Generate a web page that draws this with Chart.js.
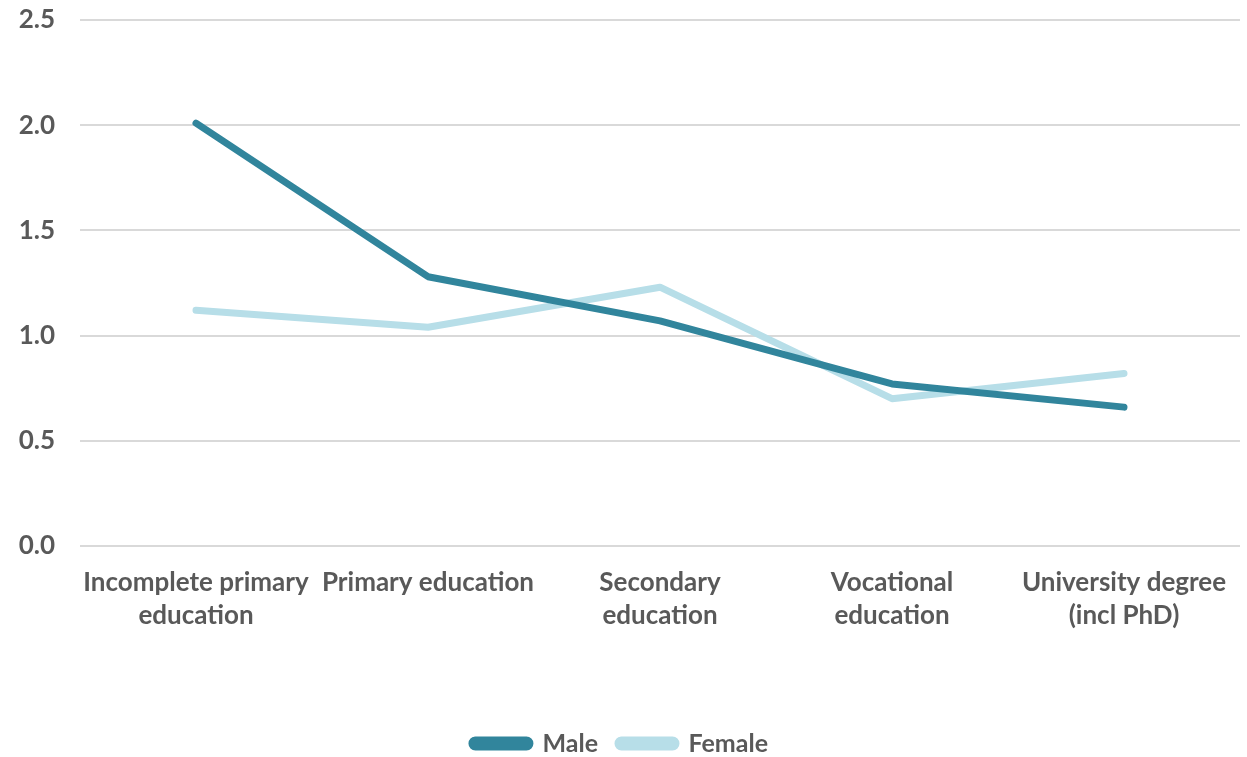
<!DOCTYPE html>
<html>
<head>
<meta charset="utf-8">
<script src="https://cdn.jsdelivr.net/npm/chart.js@4"></script>
<style>
  html, body { margin: 0; padding: 0; background: #fff; }
  #wrap { width: 1247px; height: 757px; }
</style>
</head>
<body>
<div id="wrap"><canvas id="chart" width="1247" height="757"></canvas></div>
<script>
const categories = [
    ['Incomplete primary', 'education'],
    'Primary education',
    ['Secondary', 'education'],
    ['Vocational', 'education'],
    ['University degree', '(incl PhD)']
];
const maleValues = [2.01, 1.28, 1.07, 0.77, 0.66];
const femaleValues = [1.12, 1.04, 1.23, 0.70, 0.82];
const yTicks = [0, 0.5, 1.0, 1.5, 2.0, 2.5];

const textColor = '#595959';
const font = { family: 'Lato, "Open Sans", sans-serif', size: 26, weight: 'bold', lineHeight: 1.27 };

const ctx = document.getElementById('chart').getContext('2d');
new Chart(ctx, {
    type: 'line',
    data: {
        labels: categories,
        datasets: [{
            label: 'Male',
            data: maleValues,
            borderColor: '#31859c',
            backgroundColor: '#31859c',
            borderWidth: 7,
            pointRadius: 0,
            borderCapStyle: 'round',
            borderJoinStyle: 'round',
            tension: 0
        }, {
            label: 'Female',
            data: femaleValues,
            borderColor: '#b7dee8',
            backgroundColor: '#b7dee8',
            borderWidth: 7,
            pointRadius: 0,
            borderCapStyle: 'round',
            borderJoinStyle: 'round',
            tension: 0
        }]
    },
    options: {
        responsive: false,
        animation: false,
        layout: { padding: { top: 0, right: 7, bottom: -9, left: 0 } },
        plugins: {
            tooltip: { enabled: false },
            legend: {
                position: 'bottom',
                labels: {
                    color: textColor,
                    font: { family: font.family, size: 25, weight: 'bold' },
                    boxWidth: 58,
                    boxHeight: 7,
                    useBorderRadius: true,
                    borderRadius: 3.5,
                    padding: 20
                }
            }
        },
        scales: {
            x: {
                offset: true,
                grid: { display: false },
                border: { display: false },
                ticks: { color: textColor, font: font, maxRotation: 0, autoSkip: false, padding: 12 },
                afterFit: (scale) => { scale.height = 165; }
            },
            y: {
                min: 0,
                max: 2.5,
                afterBuildTicks: (scale) => { scale.ticks = yTicks.map(v => ({ value: v })); },
                grid: { color: '#d9d9d9', lineWidth: 2, drawTicks: false },
                border: { display: false },
                ticks: {
                    color: textColor,
                    font: font,
                    padding: 25,
                    callback: (v) => Number(v).toFixed(1)
                },
                afterFit: (scale) => {
                    scale.width = 80;
                    scale.paddingTop = 20;
                    scale.paddingBottom = 0;
                }
            }
        }
    }
});
</script>
</body>
</html>
